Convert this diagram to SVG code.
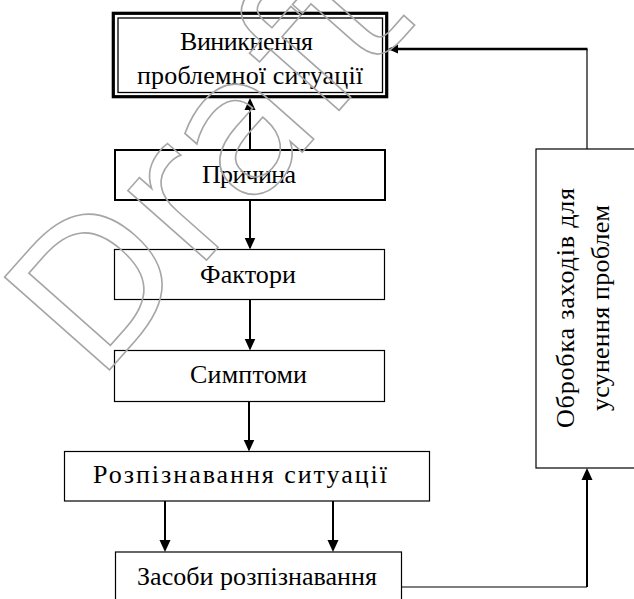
<svg xmlns="http://www.w3.org/2000/svg" width="634" height="599" viewBox="0 0 634 599">
<style>
.box{fill:#fff;stroke:#000;stroke-width:1.2}
.bold{stroke-width:2}
.t{font-family:"Liberation Serif","Times New Roman",serif;font-size:26px;fill:#000;text-anchor:middle}
.c{fill:none;stroke:#000;stroke-width:2}
.thin{stroke-width:1.2}
.wm{font-family:"DejaVu Sans",Verdana,sans-serif;font-size:192px;fill:none;stroke:#a6a6a6;stroke-width:1.6}
</style>
<defs>
<marker id="ah" markerUnits="userSpaceOnUse" markerWidth="12" markerHeight="12" viewBox="0 0 12 11" refX="10" refY="5.5" orient="auto">
<path d="M0,0 L12,5.5 L0,11 z" fill="#000"/>
</marker>
<marker id="ahs" markerUnits="userSpaceOnUse" markerWidth="10" markerHeight="10" viewBox="0 0 10 9" refX="8" refY="4.5" orient="auto">
<path d="M0,0 L10,4.5 L0,9 z" fill="#000"/>
</marker>
</defs>
<rect width="634" height="599" fill="#fff"/>
<g id="n-vynyknennia">
<rect x="113.3" y="13.3" width="273.4" height="83.4" fill="#fff" stroke="#000" stroke-width="3.2"/>
<rect x="118" y="18" width="264.5" height="74.5" fill="none" stroke="#000" stroke-width="1.3"/>
<text class="t" x="246.5" y="50" textLength="133" lengthAdjust="spacing">Виникнення</text>
<text class="t" x="250" y="84" textLength="226" lengthAdjust="spacing">проблемної ситуації</text>
</g>
<g id="n-prychyna">
<rect class="box bold" x="115" y="150" width="270" height="50"/>
<text class="t" x="249" y="183" textLength="94" lengthAdjust="spacing">Причина</text>
</g>
<g id="n-faktory">
<rect class="box" x="114.5" y="249.5" width="270" height="50"/>
<text class="t" x="248" y="283" textLength="96" lengthAdjust="spacing">Фактори</text>
</g>
<g id="n-symptomy">
<rect class="box" x="114.5" y="350.5" width="270" height="51"/>
<text class="t" x="248.5" y="383" textLength="117" lengthAdjust="spacing">Симптоми</text>
</g>
<g id="n-rozpiznavannia">
<rect class="box" x="64.5" y="451.5" width="365" height="49.5"/>
<text class="t" x="240" y="483" textLength="294" lengthAdjust="spacing">Розпізнавання ситуації</text>
</g>
<g id="n-zasoby">
<rect class="box" x="115.5" y="552" width="286" height="60"/>
<text class="t" x="257" y="585" textLength="240" lengthAdjust="spacing">Засоби розпізнавання</text>
</g>
<g id="n-obrobka">
<rect class="box" x="536" y="149" width="110" height="319"/>
<text class="t" transform="translate(574,308) rotate(-90)" textLength="240" lengthAdjust="spacing">Обробка заходів для</text>
<text class="t" transform="translate(609,308) rotate(-90)" textLength="206" lengthAdjust="spacing">усунення проблем</text>
</g>
<g id="connectors">
<path class="c" d="M250,150 V100" marker-end="url(#ah)"/>
<path class="c" d="M250,201 V247.5" marker-end="url(#ah)"/>
<path class="c" d="M250,300 V348.5" marker-end="url(#ah)"/>
<path class="c" d="M249,402 V449.5" marker-end="url(#ah)"/>
<path class="c" d="M165,501 V550" marker-end="url(#ah)"/>
<path class="c" d="M333,501 V550" marker-end="url(#ah)"/>
<path class="c thin" d="M402,587 H587"/>
<path class="c" d="M587,587 V470" marker-end="url(#ah)"/>
<path class="c thin" d="M587,149 V49"/>
<path class="c" style="stroke-width:2.5" d="M587.5,49 H390" marker-end="url(#ahs)"/>
</g>
<text class="wm" transform="translate(97,384) rotate(-48.5)">Draft</text>
</svg>
